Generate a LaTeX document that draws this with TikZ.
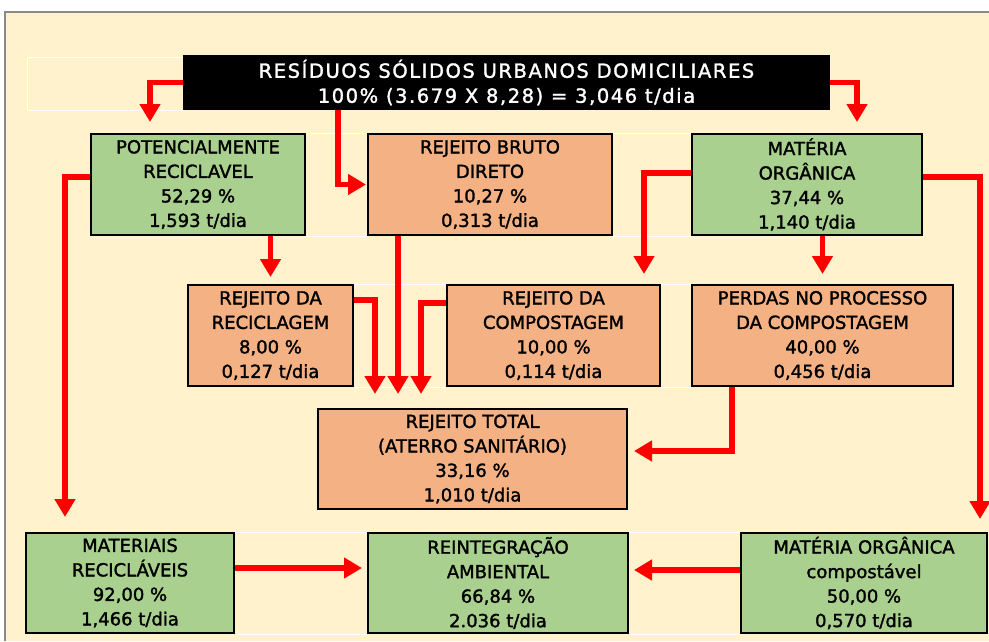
\documentclass[tikz,border=0pt]{standalone}
\usepackage{fontspec}
\setmainfont[FakeBold=1.6]{DejaVu Sans}
\newfontfamily\headfont[LetterSpace=8,FakeBold=1.6]{DejaVu Sans}
\usetikzlibrary{arrows.meta}
\definecolor{cream}{HTML}{FFF2CC}
\definecolor{leafgreen}{HTML}{A9D08E}
\definecolor{salmon}{HTML}{F4B183}
\definecolor{framegray}{HTML}{8A8A8A}
\tikzset{
  box/.style={draw=black, line width=2pt, inner sep=0pt, align=center,
    font=\fontsize{18}{24.5}\selectfont},
  green box/.style={box, fill=leafgreen},
  orange box/.style={box, fill=salmon},
  flow/.style={draw=red, line width=5.5pt, -{Triangle[width=20pt,length=18pt]}},
  grid/.style={white, line width=1pt}
}
\begin{document}
\begin{tikzpicture}[x=1pt,y=-1pt]
	\useasboundingbox (0,0) rectangle (989,641);
	\fill[white] (0,0) rectangle (989,641);
	\fill[cream] (5,12) rectangle (989,641);
	\draw[framegray, line width=1.5pt] (5,641) -- (5,12) -- (989,12);
	\draw[grid] (27,57) rectangle (183,110);

	\node[fill=black, text=white, minimum width=647pt, minimum height=55pt, inner sep=0pt,
		align=center, font=\headfont\fontsize{19.5}{25}\selectfont] (header) at (506.5,82.5)
		{RESÍDUOS SÓLIDOS URBANOS DOMICILIARES\\100\% (3.679 X 8,28) = 3,046 t/dia};

	\node[green box, minimum width=214pt, minimum height=101pt] (pot) at (198,184.5)
		{POTENCIALMENTE\\RECICLAVEL\\52,29 \%\\1,593 t/dia};
	\node[orange box, minimum width=244pt, minimum height=101pt] (rbd) at (490,184.5)
		{REJEITO BRUTO\\DIRETO\\10,27 \%\\0,313 t/dia};
	\node[green box, minimum width=230pt, minimum height=101pt] (mo) at (807,184.5)
		{MATÉRIA\\ORGÂNICA\\37,44 \%\\1,140 t/dia};

	\node[orange box, minimum width=165pt, minimum height=101pt] (rrec) at (270.5,335.5)
		{REJEITO DA\\RECICLAGEM\\8,00 \%\\0,127 t/dia};
	\node[orange box, minimum width=213pt, minimum height=101pt] (rcomp) at (553.5,335.5)
		{REJEITO DA\\COMPOSTAGEM\\10,00 \%\\0,114 t/dia};
	\node[orange box, minimum width=261pt, minimum height=101pt] (perdas) at (822.5,335.5)
		{PERDAS NO PROCESSO\\DA COMPOSTAGEM\\40,00 \%\\0,456 t/dia};

	\node[orange box, minimum width=309pt, minimum height=100pt] (rtot) at (472.5,459)
		{REJEITO TOTAL\\(ATERRO SANITÁRIO)\\33,16 \%\\1,010 t/dia};

	\node[green box, minimum width=208pt, minimum height=100pt] (mrec) at (130,583)
		{MATERIAIS\\RECICLÁVEIS\\92,00 \%\\1,466 t/dia};
	\node[green box, minimum width=260pt, minimum height=100pt] (reint) at (498,583)
		{REINTEGRAÇÃO\\AMBIENTAL\\66,84 \%\\2.036 t/dia};
	\node[green box, minimum width=246pt, minimum height=100pt] (moc) at (864,583)
		{MATÉRIA ORGÂNICA\\compostável\\50,00 \%\\0,570 t/dia};

	\draw[grid] (pot.north east) -- (rbd.north west) (pot.south east) -- (rbd.south west)
		(rbd.north east) -- (mo.north west) (rbd.south east) -- (mo.south west)
		(rrec.north east) -- (rcomp.north west) (rrec.south east) -- (rcomp.south west)
		(rcomp.north east) -- (perdas.north west) (rcomp.south east) -- (perdas.south west)
		(mrec.north east) -- (reint.north west) (mrec.south east) -- (reint.south west)
		(reint.north east) -- (moc.north west) (reint.south east) -- (moc.south west);

	\draw[flow, shorten >=11pt] (header.west) -| ([xshift=-48pt]pot.north);
	\draw[flow, shorten >=11pt] (header.east) -| ([xshift=50pt]mo.north);
	\draw[flow, shorten >=1pt] ([xshift=-168.5pt]header.south) |- (rbd.west);
	\draw[flow, shorten >=15pt] ([yshift=7.5pt]pot.west) -| ([xshift=-65pt]mrec.north);
	\draw[flow, shorten >=7pt] (rrec.north |- pot.south) -- (rrec.north);
	\draw[flow, shorten >=14pt] ([yshift=35.5pt]rrec.east) -| ([xshift=-97.5pt]rtot.north);
	\draw[flow, shorten >=14pt] ([xshift=-92pt]rbd.south) -- ([xshift=-92pt]rbd.south |- rtot.north);
	\draw[flow, shorten >=14pt] ([yshift=32.5pt]rcomp.west) -| ([xshift=-51.5pt]rtot.north);
	\draw[flow, shorten >=10pt] ([yshift=11.5pt]mo.west) -| ([xshift=90.5pt]rcomp.north);
	\draw[flow, shorten >=10pt] (perdas.north |- mo.south) -- (perdas.north);
	\draw[flow, shorten >=13pt] ([yshift=7.5pt]mo.east) -| ([xshift=116pt]moc.north);
	\draw[flow, shorten >=6pt] ([xshift=-90.5pt]perdas.south) |- ([yshift=8pt]rtot.east);
	\draw[flow, shorten >=5pt] ([yshift=15pt]mrec.east) -- ([yshift=15pt]reint.west);
	\draw[flow, shorten >=5pt] ([yshift=13pt]moc.west) -- ([yshift=13pt]reint.east);
\end{tikzpicture}
\end{document}
